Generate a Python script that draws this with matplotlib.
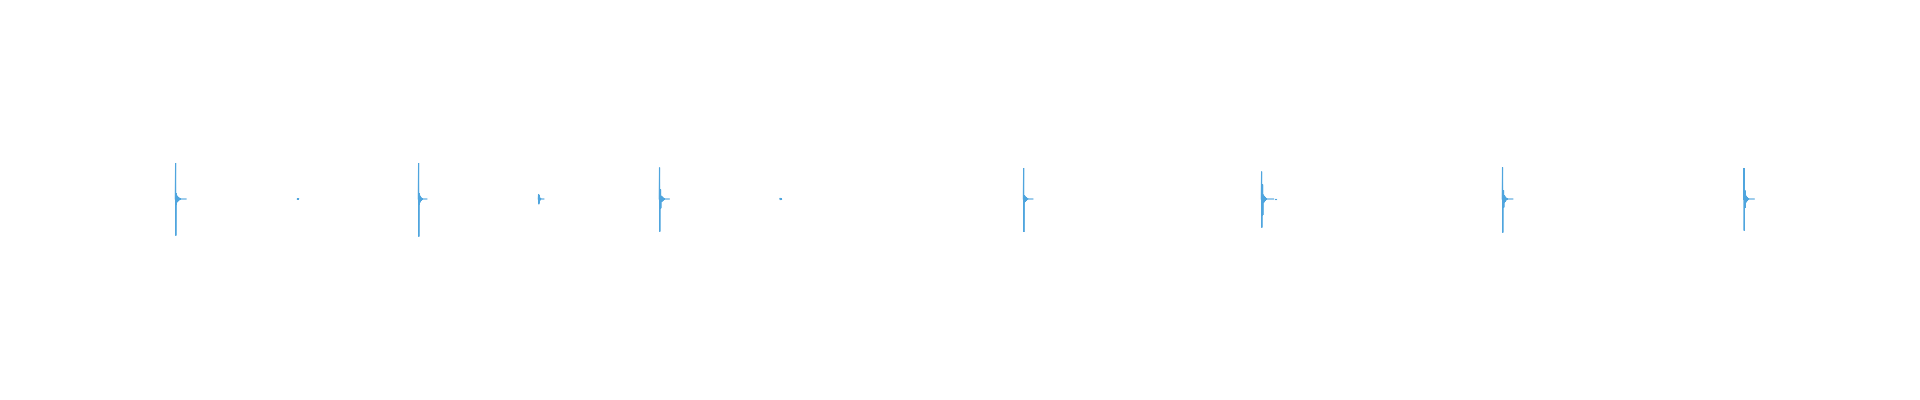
import numpy as np
import matplotlib
matplotlib.use("Agg")
import matplotlib.pyplot as plt

# --- data (time in seconds, amplitude normalised) ---
DURATION = 16.0
DT = 1.0 / 480.0          # sample spacing of the hand-read bursts

onsets = [1.461, 2.478, 3.486, 4.486, 5.494, 6.500, 8.528, 10.511, 12.519, 14.531]

bursts = [
    [0.180, -0.183, 0.030, -0.030, 0.017, -0.017, 0.016, -0.015, 0.013, -0.012, 0.010, -0.009,
     0.008, -0.007, 0.006, -0.005, 0.004, -0.003, 0.002, -0.002, 0.001],
    [0.004, -0.003, 0.002, -0.002, 0.001],
    [0.180, -0.188, 0.030, -0.028, 0.020, -0.018, 0.015, -0.014, 0.010, -0.009, 0.007, -0.006,
     0.004, -0.003, 0.002, -0.001],
    [0.025, -0.026, 0.020, -0.018, 0.010, -0.008, 0.005, -0.004, 0.002, -0.001],
    [0.157, -0.163, 0.050, -0.048, 0.047, -0.046, 0.016, -0.015, 0.014, -0.013, 0.012, -0.011,
     0.010, -0.009, 0.007, -0.006, 0.004, -0.003, 0.002, -0.001],
    [0.005, -0.005, 0.004, -0.003, 0.002, -0.001],
    [0.155, -0.165, 0.017, -0.017, 0.016, -0.015, 0.012, -0.011, 0.010, -0.009, 0.008, -0.007,
     0.006, -0.005, 0.004, -0.003, 0.002, -0.001],
    [0.137, -0.143, 0.075, -0.085, 0.072, -0.080, 0.022, -0.020, 0.018, -0.017, 0.014, -0.013,
     0.011, -0.010, 0.008, -0.007, 0.005, -0.004, 0.003, -0.002, 0.001],
    [0.158, -0.168, 0.045, -0.045, 0.043, -0.042, 0.020, -0.019, 0.016, -0.015, 0.012, -0.011,
     0.009, -0.008, 0.006, -0.005, 0.004, -0.003, 0.002, -0.001],
    [0.155, -0.158, 0.045, -0.045, 0.043, -0.042, 0.020, -0.019, 0.016, -0.015, 0.012, -0.011,
     0.009, -0.008, 0.006, -0.005, 0.004, -0.003, 0.002, -0.001],
]
tail_len = [22, 0, 18, 12, 20, 0, 20, 28, 22, 22]   # zero-valued samples after burst
gap_len = [5, 0, 0, 0, 0, 0, 0, 4, 0, 0]
dash_len = [3, 0, 0, 0, 0, 0, 0, 6, 0, 0]

COLOR = "#4FA5DE"

fig = plt.figure(figsize=(19.2, 4.0), dpi=100)
ax = fig.add_axes([0, 0, 1, 1])
for t0, b, tl, gl, dl in zip(onsets, bursts, tail_len, gap_len, dash_len):
    vals = [0.0] + list(b) + [0.0] * tl
    t = t0 + DT * np.arange(len(vals))
    ax.plot(t, vals, color=COLOR, lw=0.8, solid_joinstyle="miter")
    if dl:
        start = t0 + DT * (len(vals) + gl)
        td = start + DT * np.arange(dl)
        ax.plot(td, np.zeros(dl), color=COLOR, lw=0.8)

ax.set_xlim(0, DURATION)
ax.set_ylim(-1.005, 0.995)
ax.axis("off")
fig.savefig("out.png", dpi=100, facecolor="white")
